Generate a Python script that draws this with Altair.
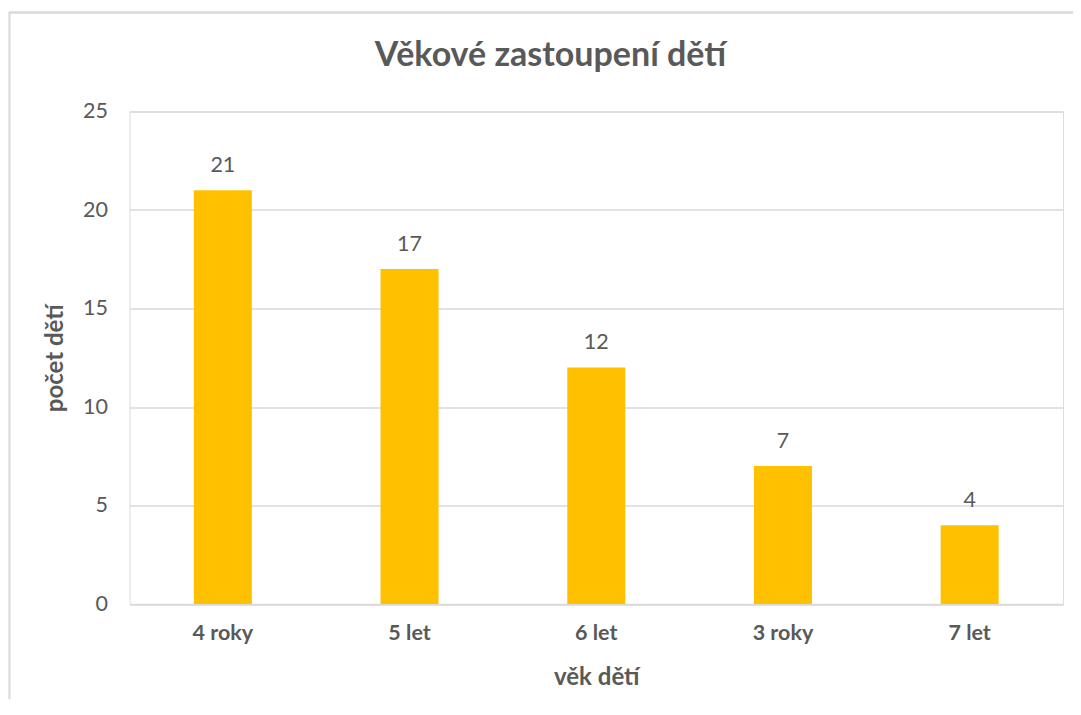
import altair as alt
import pandas as pd

categories = ["4 roky", "5 let", "6 let", "3 roky", "7 let"]
counts = [21, 17, 12, 7, 4]
y_ticks = [0, 5, 10, 15, 20, 25]
chart_title = "Věkové zastoupení dětí"

df = pd.DataFrame({"vek": categories, "pocet": counts})

FONT = "Lato"
TXT = "#595959"
GRID = "#D9D9D9"
LBL = 21.5
TTL = 24

base = alt.Chart(df)

x_enc = alt.X(
    "vek:N",
    sort=categories,
    scale=alt.Scale(paddingInner=0, paddingOuter=0),
    axis=alt.Axis(
        title="věk dětí",
        titleFont=FONT, titleFontSize=TTL, titleFontWeight="bold", titleColor=TXT,
        titlePadding=22,
        labelFont=FONT, labelFontSize=LBL, labelFontWeight="bold", labelColor=TXT,
        labelAngle=0, labelPadding=18,
        ticks=False, domainColor=GRID, domainWidth=1.3,
    ),
)
y_enc = alt.Y(
    "pocet:Q",
    scale=alt.Scale(domain=[0, 25], nice=False),
    axis=alt.Axis(
        title="počet dětí",
        titleFont=FONT, titleFontSize=TTL, titleFontWeight="bold", titleColor=TXT,
        titlePadding=15,
        values=y_ticks,
        labelFont=FONT, labelFontSize=LBL, labelColor=TXT, labelPadding=22,
        ticks=False, domain=False,
        grid=True, gridColor=GRID, gridWidth=1.3,
    ),
)

border = alt.Chart(df).mark_rect(fill=None, stroke=GRID, strokeWidth=1.3).encode(
    x=alt.value(-120), x2=alt.value(1000), y=alt.value(-99), y2=alt.value(700)
)

title_mark = alt.Chart(pd.DataFrame({"t": [chart_title]})).mark_text(
    font=FONT, fontSize=34, fontWeight="bold", color=TXT,
    align="center", baseline="alphabetic",
).encode(x=alt.value(421), y=alt.value(-46), text="t:N")

bars = base.mark_bar(color="#FFC000", size=58).encode(x=x_enc, y=y_enc)
labels = base.mark_text(
    font=FONT, fontSize=LBL, color=TXT, baseline="alphabetic", dy=-18.5
).encode(x=alt.X("vek:N", sort=categories), y="pocet:Q", text="pocet:Q")

chart = (
    alt.layer(border, title_mark, bars, labels)
    .properties(
        width=933.5,
        height=492.5,
        autosize=alt.AutoSizeParams(type="none"),
        padding={"left": 121.5, "top": 103.5, "right": 10, "bottom": 95},
    )
    .configure_view(stroke=None)
    .configure(background="white")
)

chart.save("out.html", embed_options={"renderer": "svg", "actions": False})
